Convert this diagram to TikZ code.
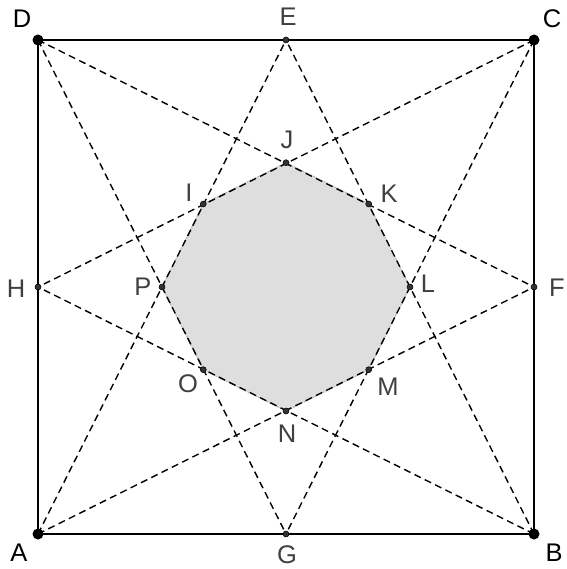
\documentclass[tikz,border=0pt]{standalone}
\usepackage{fontspec}
\setmainfont{Liberation Sans}
\begin{document}
\begin{tikzpicture}[x=1pt,y=-1pt,
  lbl/.style={font=\fontsize{25.5}{30}\selectfont, text=black!75},
  cornerlbl/.style={lbl, text=black},
  dashline/.style={dash pattern=on 7pt off 4.5pt, line width=1.4pt},
  bigdot/.style={fill=black},
  smalldot/.style={fill=black!80, draw=black, line width=0.5pt}]
\useasboundingbox (0,0) rectangle (566,569);
% square corners and midpoints
\coordinate (A) at (38,534);
\coordinate (B) at (534,534);
\coordinate (C) at (534,40);
\coordinate (D) at (38,40);
\coordinate (E) at (286,40);
\coordinate (F) at (534,287);
\coordinate (G) at (286,534);
\coordinate (H) at (38,287);
% octagon
\coordinate (J) at (286,162.7);
\coordinate (K) at (368.7,204);
\coordinate (L) at (410,287);
\coordinate (M) at (368.7,369.7);
\coordinate (N) at (286,411);
\coordinate (O) at (203.3,369.7);
\coordinate (P) at (162,287);
\coordinate (I) at (203.3,204);
\fill[black!13] (J) -- (K) -- (L) -- (M) -- (N) -- (O) -- (P) -- (I) -- cycle;
\draw[black!30, dash pattern=on 2pt off 1pt, line width=1pt]
  (J) -- (K) -- (L) -- (M) -- (N) -- (O) -- (P) -- (I) -- cycle;
\draw[line width=1.6pt] (A) -- (B) -- (C) -- (D) -- cycle;
\foreach \p/\q in {A/E,A/F,B/E,B/H,C/G,C/H,D/G,D/F}
  \draw[dashline] (\p) -- (\q);
\foreach \p in {A,B,C,D}
  \fill[bigdot] (\p) circle (5.5pt);
\foreach \p in {E,F,G,H,I,J,K,L,M,N,O,P}
  \filldraw[smalldot] (\p) circle (3pt);
% labels
\node[cornerlbl] at (22,19) {D};
\node[cornerlbl] at (552,19) {C};
\node[cornerlbl] at (19,553) {A};
\node[cornerlbl] at (554,553) {B};
\node[lbl] at (288,17) {E};
\node[lbl] at (557,288) {F};
\node[lbl] at (287,555) {G};
\node[lbl] at (16,289) {H};
\node[lbl] at (287,140) {J};
\node[lbl] at (389,194) {K};
\node[lbl] at (428,284) {L};
\node[lbl] at (388,387) {M};
\node[lbl] at (287,434) {N};
\node[lbl] at (188,384) {O};
\node[lbl] at (143,287) {P};
\node[lbl] at (189,193) {I};
\end{tikzpicture}
\end{document}
